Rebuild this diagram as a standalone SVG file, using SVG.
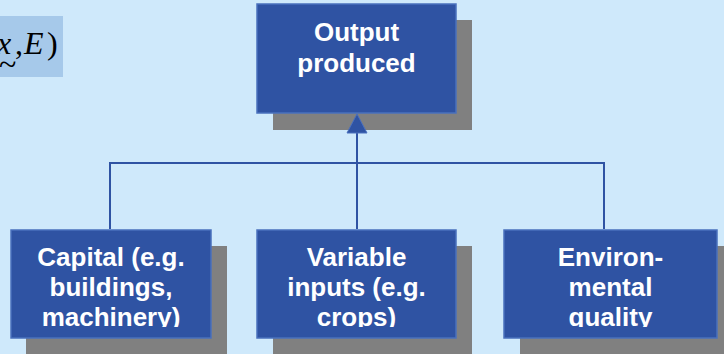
<svg xmlns="http://www.w3.org/2000/svg" width="724" height="354" viewBox="0 0 724 354">
<defs>
<style>
.shadow{fill:#808080}
.box{fill:#2f53a3;stroke:#4a70bd;stroke-width:1.5}
.lbl{font-family:"Liberation Sans",Arial,sans-serif;font-weight:bold;font-size:26px;fill:#ffffff;text-anchor:middle}
.conn{fill:none;stroke:#2f53a3;stroke-width:2}
.math{font-family:"Liberation Serif","Times New Roman",serif;font-size:32px;fill:#000000}
</style>
<clipPath id="clipL"><rect x="11" y="230" width="200" height="97"/></clipPath>
<clipPath id="clipM"><rect x="257" y="230" width="199" height="97"/></clipPath>
<clipPath id="clipR"><rect x="504" y="230" width="213" height="97"/></clipPath>
</defs>
<rect x="0" y="0" width="724" height="354" fill="#cfe9fb"/>
<g id="formula">
<rect x="-1" y="16" width="64" height="61" fill="#a6c9ea"/>
<text class="math" x="-3" y="54" font-style="italic">x</text>
<text class="math" x="15" y="54">,</text>
<text class="math" x="24" y="54" font-style="italic">E</text>
<text class="math" x="47" y="54">)</text>
<text class="math" x="-1" y="75" font-size="16">~</text>
</g>
<g id="node-output">
<rect class="shadow" x="273" y="20" width="199" height="110"/>
<rect class="box" x="257" y="4" width="199" height="109"/>
<text class="lbl" x="356.5" y="41">Output</text>
<text class="lbl" x="356.5" y="72">produced</text>
</g>
<g id="node-capital">
<rect class="shadow" x="26" y="246" width="201" height="110"/>
<rect class="box" x="11" y="230" width="200" height="108"/>
<g clip-path="url(#clipL)">
<text class="lbl" x="111" y="266">Capital (e.g.</text>
<text class="lbl" x="111" y="296">buildings,</text>
<text class="lbl" x="111" y="326">machinery)</text>
</g>
</g>
<g id="node-variable">
<rect class="shadow" x="273" y="246" width="199" height="110"/>
<rect class="box" x="257" y="230" width="199" height="108"/>
<g clip-path="url(#clipM)">
<text class="lbl" x="356.5" y="266">Variable</text>
<text class="lbl" x="356.5" y="296">inputs (e.g.</text>
<text class="lbl" x="356.5" y="326">crops)</text>
</g>
</g>
<g id="node-environment">
<rect class="shadow" x="520" y="246" width="210" height="110"/>
<rect class="box" x="504" y="230" width="213" height="108"/>
<g clip-path="url(#clipR)">
<text class="lbl" x="610.5" y="266">Environ-</text>
<text class="lbl" x="610.5" y="296">mental</text>
<text class="lbl" x="610.5" y="326">quality</text>
</g>
</g>
<g id="connectors">
<path class="conn" d="M110,229 V163 H604 V229"/>
<path class="conn" d="M357,229 V133"/>
<path d="M347,133 L357,114 L367,133 Z" fill="#2f53a3" stroke="#4a70bd" stroke-width="1"/>
</g>
</svg>
